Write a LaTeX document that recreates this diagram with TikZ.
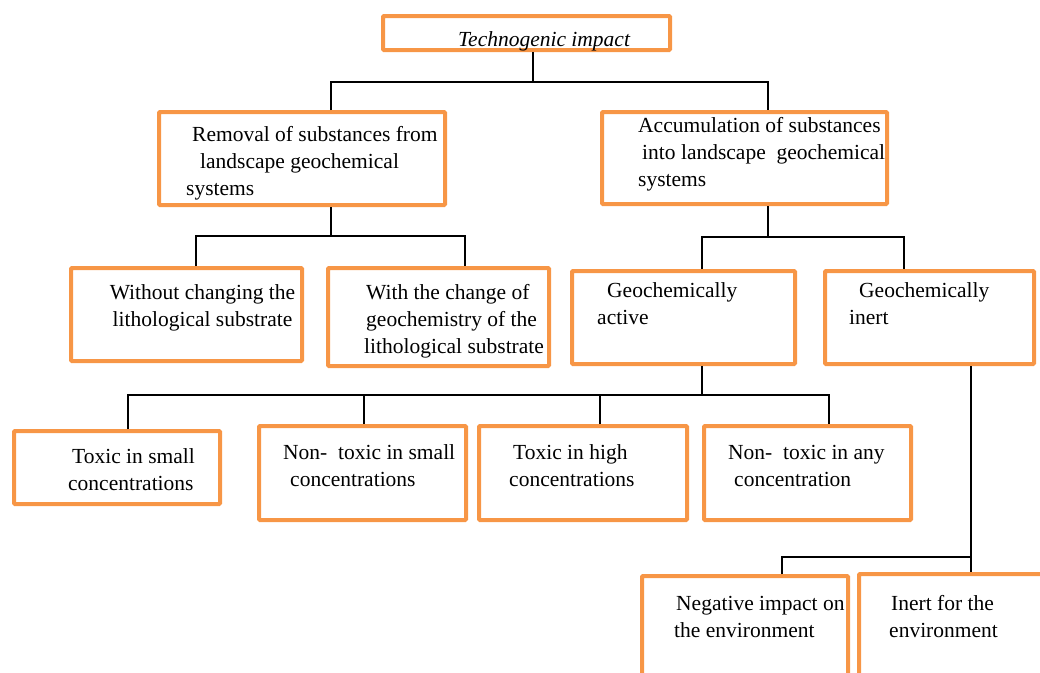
\documentclass[tikz,border=0pt]{standalone}
\usepackage{fontspec}
\setmainfont{Liberation Serif}
\usepackage{xcolor}
\definecolor{boxorange}{HTML}{F79646}
% frame node: name, left, top, right, bottom (outer edges, px)
\newcommand\frm[5]{\node[frame, minimum width={#4-#2-4}, minimum height={#5-#3-4}] (#1) at (#2,#3) {};}

\begin{document}
\begin{tikzpicture}[x=1pt, y=-1pt, frame/.style={draw=boxorange, line width=4pt, rounded corners=1pt, inner sep=0pt, anchor=north west}, txt/.style={anchor=west, align=left, inner sep=0pt, font=\fontsize{21.5}{27}\selectfont}, link/.style={line width=1.6pt}]
	\clip (0,0) rectangle (1040,672);
	% frames
	\frm{top}{381}{14}{672}{52}
	\frm{rem}{157}{110}{447}{207}
	\frm{acc}{600}{110}{889}{206}
	\frm{wo}{69}{266}{304}{363}
	\frm{wi}{326}{266}{551}{368}
	\frm{act}{570}{269}{797}{366}
	\frm{ine}{823}{269}{1036}{366}
	\frm{ts}{12}{429}{222}{506}
	\frm{ns}{257}{424}{468}{522}
	\frm{th}{477}{424}{689}{522}
	\frm{na}{702}{424}{913}{522}
	\frm{neg}{640}{574}{850}{700}
	\frm{inv}{857}{572}{1060}{700}
	% texts
	\node[txt, font=\fontsize{21.5}{27}\selectfont\itshape] (t0) at (458,41) {Technogenic impact};
	\node[txt] (t1) at (186,163.5) {\hspace*{6pt}Removal of substances from\\\hspace*{14pt}landscape geochemical\\systems};
	\node[txt] (t2) at (638,154) {Accumulation of substances\\\hspace*{4pt}into landscape~ geochemical\\systems};
	\node[txt, anchor=center, align=center] (t3) at (202.5,307.5) {Without changing the\\lithological substrate};
	\node[txt] (t4) at (364,321) {\hspace*{2pt}With the change of\\\hspace*{2pt}geochemistry of the\\lithological substrate};
	\node[txt] (t5) at (597,304) {\hspace*{10pt}Geochemically\\active};
	\node[txt] (t6) at (849,303.5) {\hspace*{10pt}Geochemically\\inert};
	\node[txt] (t7) at (68,469.5) {\hspace*{4pt}Toxic in small\\concentrations};
	\node[txt] (t8) at (283,466) {Non-\ \ toxic in small\\\hspace*{7pt}concentrations};
	\node[txt] (t9) at (509,466) {\hspace*{4pt}Toxic in high\\concentrations};
	\node[txt] (t10) at (728,466) {Non-\ \ toxic in any\\\hspace*{6pt}concentration};
	\node[txt] (t11) at (674,616.5) {\hspace*{2pt}Negative impact on\\the environment};
	\node[txt] (t12) at (889,616.5) {\hspace*{2pt}Inert for the\\environment};
	% connectors
	\draw[link] (top.south -| 533,0) -- ++(0,30) coordinate (j1);
	\draw[link] (rem.north -| 331,0) |- (j1) -| (acc.north -| 768,0);
	\draw[link] (rem.south -| 331,0) -- ++(0,29) coordinate (j2);
	\draw[link] (wo.north -| 196,0) |- (j2) -| (wi.north -| 465,0);
	\draw[link] (acc.south -| 768,0) -- ++(0,31) coordinate (j3);
	\draw[link] (act.north -| 702,0) |- (j3) -| (ine.north -| 904,0);
	\draw[link] (act.south -| 702,0) -- ++(0,29) coordinate (j4);
	\draw[link] (ts.north -| 128,0) |- (j4) -| (na.north -| 829,0);
	\draw[link] (ns.north -| 364,0) |- (j4);
	\draw[link] (th.north -| 600,0) |- (j4);
	\draw[link] (ine.south -| 971,0) -- ++(0,191) coordinate (j5);
	\draw[link] (neg.north -| 782,0) |- (j5) -- (inv.north -| 971,0);
\end{tikzpicture}
\end{document}
